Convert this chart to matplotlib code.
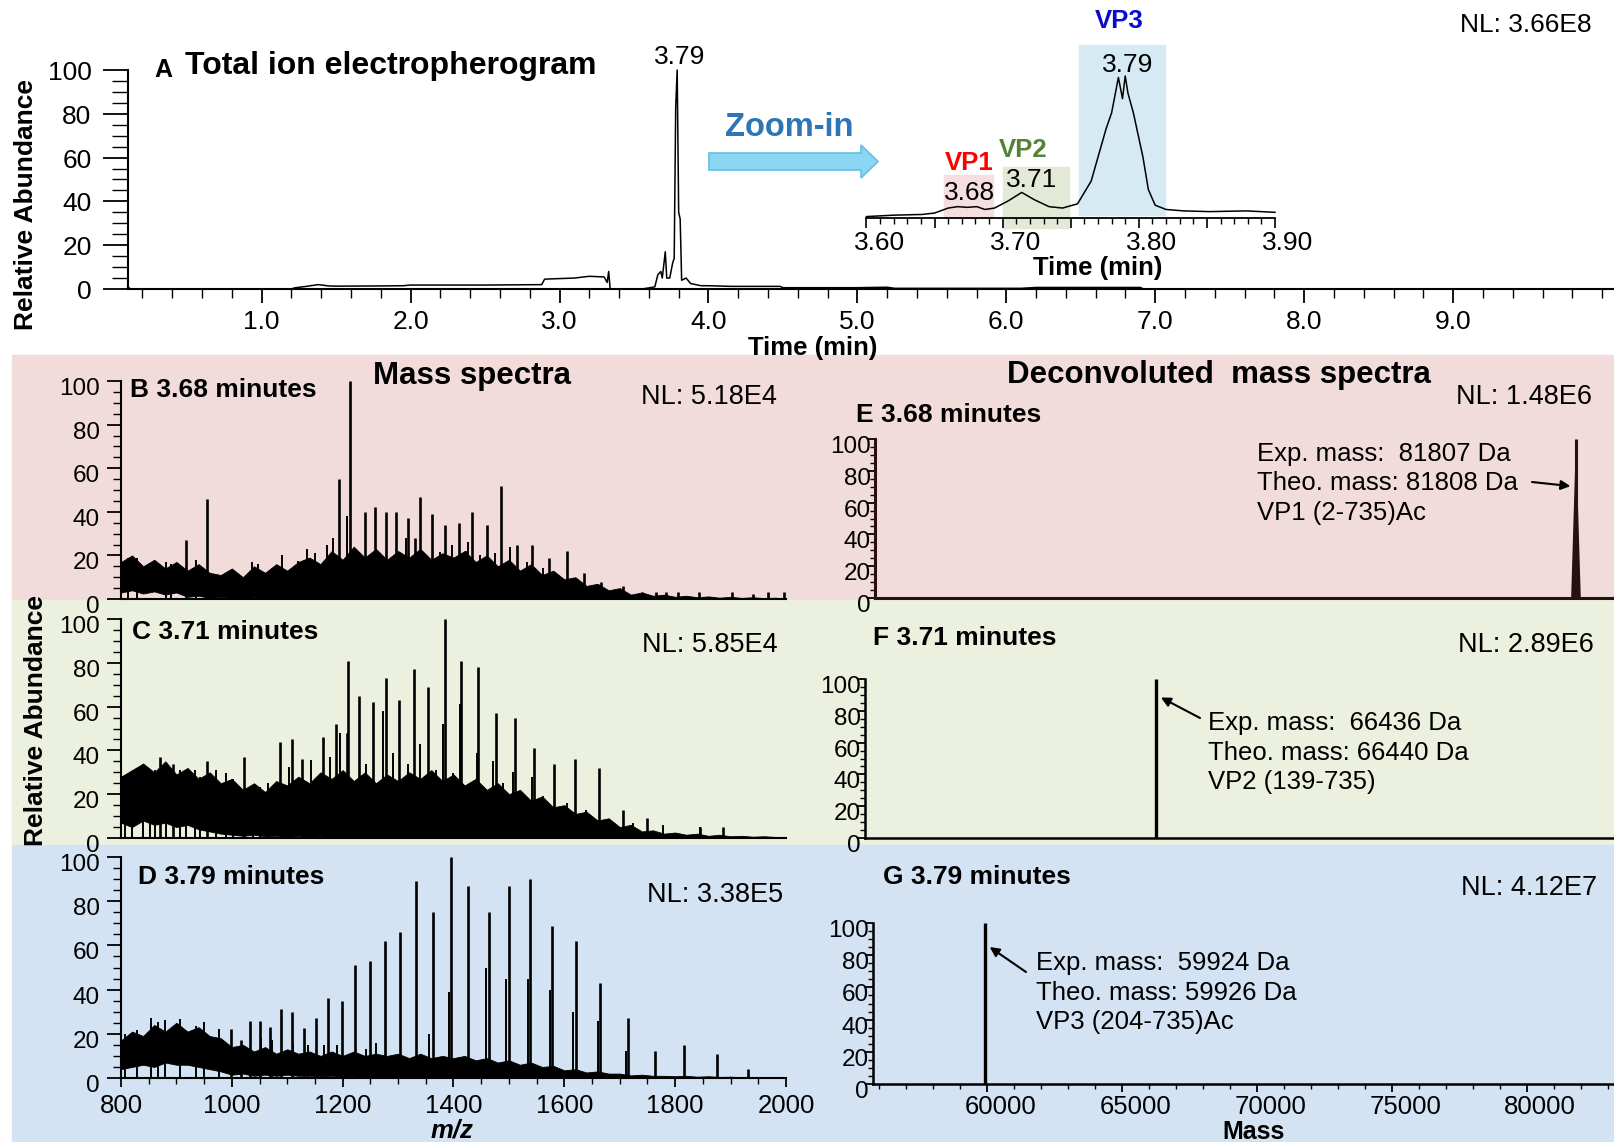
import matplotlib
matplotlib.use("Agg")
import matplotlib.pyplot as plt
from matplotlib.patches import Rectangle, Polygon
from matplotlib.ticker import MultipleLocator

plt.rcParams["font.family"] = ["Liberation Sans", "DejaVu Sans"]

W, H = 1614, 1142

# ---- total ion electropherogram (panel A) ----
tie_t = [0.10, 0.12, 0.14, 1.20, 1.22, 1.30, 1.38, 1.45, 1.50, 1.80, 1.95, 2.00, 2.50,
         2.88, 2.90, 3.10, 3.20, 3.30, 3.32, 3.33, 3.34, 3.55, 3.60, 3.64, 3.66, 3.68,
         3.69, 3.71, 3.72, 3.74, 3.76, 3.77, 3.78, 3.79, 3.80, 3.81, 3.82, 3.85, 3.88,
         3.95, 4.00, 4.15, 4.48, 4.50, 5.00, 5.20, 5.25, 6.10, 6.20, 6.90, 6.92, 10.0]
tie_y = [1.0, 0, 0, 0, 0.5, 1.2, 2.0, 1.4, 1.3, 1.4, 1.5, 1.8, 1.8,
         2.0, 4.5, 5.0, 5.8, 5.5, 3.0, 8.0, 0, 0, 0.5, 1.0, 6.5, 8.0,
         5.0, 17, 5, 5, 12, 14, 83, 100, 35, 32, 4, 5, 2.5,
         1.5, 1.5, 1.2, 1.2, 0.6, 0.6, 0.8, 0.3, 0.3, 0.7, 0.7, 0, 0]

# zoomed electropherogram (inset)
zoom_t = [3.600, 3.620, 3.641, 3.650, 3.660, 3.667, 3.674, 3.681, 3.687, 3.694, 3.704,
          3.714, 3.723, 3.734, 3.744, 3.755, 3.765, 3.776, 3.780, 3.785, 3.788, 3.790,
          3.792, 3.796, 3.803, 3.807, 3.812, 3.820, 3.833, 3.852, 3.879, 3.900]
zoom_y = [1, 2, 2.5, 3.5, 7, 8, 7.5, 8, 6, 7, 12,
          18, 13, 8, 7, 10, 26, 63, 74, 99, 84, 100,
          88, 74, 43, 20, 9, 6, 5, 4.5, 5, 4]

vp_names = ["VP1", "VP2", "VP3"]
vp_apex = ["3.68", "3.71", "3.79"]
vp_start = [3.657, 3.700, 3.756]
vp_end = [3.693, 3.749, 3.819]
vp_top = [30, 36, 122]

# ---- mass spectra (B, C, D) ----
noise_mz = [800, 820, 840, 860, 880, 900, 920, 940, 960, 980,
            1000, 1020, 1040, 1060, 1080, 1100, 1120, 1140, 1160, 1180,
            1200, 1220, 1240, 1260, 1280, 1300, 1320, 1340, 1360, 1380,
            1400, 1420, 1440, 1460, 1480, 1500, 1520, 1540, 1560, 1580,
            1600, 1620, 1640, 1660, 1680, 1700, 1720, 1740, 1760, 1780,
            1800, 1820, 1840, 1860, 1880, 1900, 1920, 1940, 1960, 1980, 2000]

b_noise_hi = [17, 20, 15, 18, 14, 17, 13, 16, 12, 11,
              14, 10, 15, 12, 16, 13, 17, 19, 16, 22,
              18, 24, 19, 23, 18, 22, 19, 23, 18, 21,
              19, 22, 17, 20, 15, 18, 13, 16, 11, 13,
              9, 10, 6, 7, 4, 5, 2, 3, 1.5, 2,
              1, 1.5, 0.8, 1.2, 0.6, 1, 0.5, 0.8, 0.4, 0.6, 0.3]
b_noise_lo = [3, 4, 2.5, 3.5, 2, 3, 1, 1.5, 0.5, 1,
              0.5, 0.3, 0.8, 0.3, 0.6, 0.3, 0.5, 0.3, 0.6, 0.3,
              0.5, 0.3, 0.5, 0.2, 0.4, 0.2, 0.4, 0.2, 0.3, 0.2,
              0.3, 0.2, 0.3, 0.2, 0.2, 0.1, 0.2, 0, 0, 0,
              0, 0, 0, 0, 0, 0, 0, 0, 0, 0,
              0, 0, 0, 0, 0, 0, 0, 0, 0, 0, 0]
b_peak_mz = [918, 955, 1193, 1214, 1240, 1259, 1278, 1297, 1317, 1330, 1340, 1361, 1385, 1410,
             1434, 1460, 1486, 1514, 1542, 1573, 1605, 1636, 1667, 1705, 1741, 1766, 1783,
             1806, 1843, 1903, 1940, 1968, 1997]
b_peak_h = [27, 46, 55, 100, 40, 42, 40, 40, 37, 28, 47, 39, 34, 35,
            40, 34, 52, 25, 25, 19, 22, 12, 8, 6, 3, 3, 3,
            3, 3, 3, 2.5, 3, 3]
b_minor_mz = [813, 828, 882, 891, 936, 1000, 1036, 1048, 1090, 1120, 1136, 1150, 1171, 1183,
              1207, 1315, 1376, 1397, 1403, 1423, 1427, 1448, 1451, 1475, 1502, 1532, 1562,
              1589, 1619, 1652, 1676]
b_minor_h = [19, 19, 17, 16, 18, 13, 17, 16, 20, 17.5, 23, 21, 25, 28,
             38, 28, 21.5, 24.6, 19, 22, 26, 20, 18, 21, 24, 17, 14,
             10.5, 7.3, 2.6, 4.2]

c_noise_hi = [28, 31, 34, 30, 35, 29, 32, 27, 30, 25,
              27, 22, 25, 21, 26, 24, 28, 25, 30, 27,
              31, 26, 30, 25, 29, 26, 30, 27, 31, 26,
              29, 24, 27, 22, 25, 20, 22, 17, 19, 14,
              15, 11, 12, 8, 9, 5, 6, 3, 3.5, 2,
              2.5, 1.5, 2, 1, 1.5, 0.8, 1, 0.6, 0.8, 0.5, 0.5]
c_noise_lo = [7, 5, 8, 6, 7, 5, 6, 4, 3, 2,
              1.5, 1, 1.5, 0.8, 1, 0.6, 1, 0.5, 0.8, 0.5,
              0.6, 0.4, 0.5, 0.3, 0.5, 0.3, 0.4, 0.3, 0.4, 0.2,
              0.3, 0.2, 0.3, 0.2, 0.2, 0.1, 0.1, 0, 0, 0,
              0, 0, 0, 0, 0, 0, 0, 0, 0, 0,
              0, 0, 0, 0, 0, 0, 0, 0, 0, 0, 0]
c_peak_mz = [870, 894, 955, 1022, 1087, 1108, 1126, 1164, 1188, 1207, 1210, 1230, 1255, 1278,
             1302, 1328, 1354, 1384, 1414, 1445, 1477, 1511, 1545, 1581, 1620, 1663, 1705,
             1749, 1845, 1887]
c_peak_h = [37, 34, 35, 37, 44, 45, 36, 46, 52, 48, 81, 65, 62, 73,
            63, 77, 69, 100, 81, 78, 57, 55, 41, 34, 36, 32, 13,
            9, 5, 5]
c_minor_mz = [807, 819, 840, 852, 861, 882, 906, 918, 933, 942, 972, 989, 1003, 1039,
              1051, 1066, 1104, 1142, 1177, 1195, 1243, 1273, 1291, 1318, 1339, 1369, 1381,
              1399, 1411, 1423, 1443, 1459, 1472, 1490, 1507, 1526, 1542, 1562, 1604, 1640,
              1676, 1724, 1778, 1844]
c_minor_h = [25, 27, 34, 31, 31, 32, 31, 31, 31, 28, 31, 29.5, 27, 22,
             23.5, 25, 32.6, 35.7, 37, 48, 34, 58, 38.7, 34, 43, 31, 52,
             29.5, 61, 23.5, 39, 22, 35, 25, 30, 20, 28, 19, 16, 13,
             6.8, 6.8, 6, 5]

d_noise_hi = [17, 21, 19, 24, 21, 25, 21, 23, 19, 18,
              14, 15, 12, 14, 11, 13, 11, 12, 10, 12,
              10, 12, 10, 11, 10, 11, 9, 11, 9, 10,
              9, 10, 8, 9, 7, 8, 6, 7, 5, 5.5,
              3.5, 4, 2.5, 3, 2, 2, 1.2, 1.5, 1, 1,
              0.8, 1, 0.6, 0.8, 0.5, 0.6, 0.4, 0.5, 0.3, 0.4, 0.3]
d_noise_lo = [4, 5, 6, 5, 7, 6, 6, 5, 4, 3,
              1.5, 2, 1, 1.5, 1, 1.5, 1, 1, 0.8, 1,
              0.6, 0.8, 0.5, 0.6, 0.4, 0.5, 0.3, 0.4, 0.3, 0.3,
              0.2, 0.3, 0.2, 0.2, 0.1, 0.2, 0.1, 0, 0, 0,
              0, 0, 0, 0, 0, 0, 0, 0, 0, 0,
              0, 0, 0, 0, 0, 0, 0, 0, 0, 0, 0]
d_peak_mz = [999, 1017, 1032, 1050, 1069, 1089, 1108, 1131, 1152, 1174, 1198, 1223, 1249, 1276,
             1304, 1332, 1363, 1395, 1427, 1464, 1500, 1538, 1578, 1621, 1665, 1715, 1764,
             1816, 1875, 1932]
d_peak_h = [22, 17, 26, 26, 23, 31, 30, 22.5, 27, 36, 35, 51, 53, 62,
            66, 89, 75, 100, 87, 75, 87, 90, 69, 62, 43, 27, 12,
            15, 11, 4]
d_minor_mz = [808, 828, 855, 867, 880, 907, 935, 949, 976, 1053, 1072, 1110, 1138, 1167,
              1190, 1242, 1261, 1356, 1391, 1459, 1495, 1534, 1575, 1616, 1661, 1711]
d_minor_h = [20, 21.7, 27, 25.5, 26.4, 26.6, 23.6, 25.5, 22.3, 18, 17, 16, 15, 15,
             15, 13, 16, 19.8, 39, 50, 45, 45, 40, 30, 26, 12]

# ---- deconvoluted spectra (E, F, G) ----
decon_mass = [81807, 66436, 59924]
decon_height = [100, 100, 100]
theo_mass = [81808, 66440, 59926]
species = ["VP1 (2-735)Ac", "VP2 (139-735)", "VP3 (204-735)Ac"]

panel_tags = ["B", "C", "D", "E", "F", "G"]
panel_times = ["3.68", "3.71", "3.79", "3.68", "3.71", "3.79"]
nl_levels = ["5.18E4", "5.85E4", "3.38E5", "1.48E6", "2.89E6", "4.12E7"]
nl_tie = "3.66E8"

PINK, GREEN, BLUE = "#f2dcdb", "#ebf1de", "#d3e3f3"

fig = plt.figure(figsize=(W / 100, H / 100), dpi=100)


def box(left, right, bottom, top):
    return [left / W, 1 - bottom / H, (right - left) / W, (bottom - top) / H]


def put(x, y, s, **kw):
    return fig.text(x / W, 1 - y / H, s, **kw)


def new_axes(left, right, bottom, top, spines=("left", "bottom"), lw=1.5, color="k"):
    ax = fig.add_axes(box(left, right, bottom, top))
    ax.set_facecolor("none")
    for side in ["left", "right", "top", "bottom"]:
        if side in spines:
            ax.spines[side].set_linewidth(lw)
            ax.spines[side].set_color(color)
        else:
            ax.spines[side].set_visible(False)
    return ax


def y_labels(ax, ticks, dx, dy, size, major, minor):
    ax.set_yticks(ticks)
    ax.yaxis.set_minor_locator(MultipleLocator(5))
    ax.tick_params(axis="y", which="major", length=major * 0.72, width=1.3, labelleft=False)
    ax.tick_params(axis="y", which="minor", length=minor * 0.72, width=1.0)
    for t in ticks:
        ax.annotate(str(t), xy=(0, t), xycoords=("axes fraction", "data"),
                    xytext=(-dx, -dy), textcoords="offset pixels", ha="right",
                    va="center", fontsize=size, annotation_clip=False)


def x_labels(ax, ticks, texts, dx, dy, size):
    for t, s in zip(ticks, texts):
        ax.annotate(s, xy=(t, 0), xycoords=("data", "axes fraction"),
                    xytext=(dx, -dy), textcoords="offset pixels", ha="center",
                    va="center", fontsize=size, annotation_clip=False)


# coloured bands behind the spectra
for top, bottom, col in [(355, 600, PINK), (600, 845, GREEN), (845, H, BLUE)]:
    fig.add_artist(Rectangle((12 / W, 1 - bottom / H), 1 - 12 / W, (bottom - top) / H,
                             transform=fig.transFigure, color=col, zorder=-5))

# ---------------- panel A ----------------
axA = new_axes(127.6, 1614, 289, 70)
axA.plot(tie_t, tie_y, color="k", lw=1.1, clip_on=False)
axA.set_xlim(0.10, 10.08)
axA.set_ylim(0, 100)
y_labels(axA, [0, 20, 40, 60, 80, 100], 36, 3, 19, 25, 16)
axA.set_xticks(range(1, 10))
axA.xaxis.set_minor_locator(MultipleLocator(0.2))
axA.tick_params(axis="x", which="major", length=14 * 0.72, width=1.3, labelbottom=False)
axA.tick_params(axis="x", which="minor", length=9 * 0.72, width=1.0)
x_labels(axA, range(1, 10), [f"{v:.1f}" for v in range(1, 10)], 0, 33, 19)
put(26, 204, "Relative Abundance", rotation=90, fontsize=19, fontweight="bold",
    ha="center", va="center")
put(813, 348, "Time (min)", fontsize=18.5, fontweight="bold", ha="center", va="center")
put(163, 70, "A", fontsize=18, fontweight="bold", ha="center", va="center")
put(185, 66, "Total ion electropherogram", fontsize=23, fontweight="bold", ha="left", va="center")
put(680, 57, "3.79", fontsize=19, ha="center", va="center")
put(1592, 25, f"NL: {nl_tie}", fontsize=19, ha="right", va="center")

# zoom-in arrow and label
arrow_px = [(709, 153), (861, 153), (861, 145), (878, 161.5), (861, 178), (861, 170), (709, 170)]
arrow = Polygon([(x / W, 1 - y / H) for x, y in arrow_px], closed=True,
                facecolor="#8bd6f2", edgecolor="#62bfe3", lw=1.2, transform=fig.transFigure)
fig.add_artist(arrow)
put(789, 127, "Zoom-in", fontsize=23.5, fontweight="bold", color="#2e75b6", ha="center", va="center")

# ---------------- inset ----------------
axI = new_axes(866.5, 1275, 218, 218 - 125 * 1.42, spines=("bottom",), lw=1.3)
box_cols = ["#f5dedf", "#e2e9d6", "#d6eaf4"]
box_bot = [0, -7, 2]
for s, e, t, b, c in zip(vp_start, vp_end, vp_top, box_bot, box_cols):
    axI.add_patch(Rectangle((s, b), e - s, t - b, color=c, zorder=0, clip_on=False))
axI.plot(zoom_t, zoom_y, color="k", lw=1.1, zorder=2, clip_on=False)
axI.set_xlim(3.60, 3.90)
axI.set_ylim(0, 125)
axI.set_yticks([])
axI.xaxis.set_major_locator(MultipleLocator(0.05))
axI.xaxis.set_minor_locator(MultipleLocator(0.01))
axI.tick_params(axis="x", which="major", length=10 * 0.72, width=1.2, labelbottom=False)
axI.tick_params(axis="x", which="minor", length=6 * 0.72, width=1.0)
x_labels(axI, [3.60, 3.70, 3.80, 3.90], ["3.60", "3.70", "3.80", "3.90"], 13, 25, 19)
put(1098, 268, "Time (min)", fontsize=18.5, fontweight="bold", ha="center", va="center")
vp_colors = ["#ff0000", "#548235", "#0a0acc"]
vp_name_xy = [(969, 163), (1023, 150), (1119, 21)]
vp_apex_xy = [(970, 193), (1032, 180), (1128, 65)]
for n, a, c, (nx, ny), (ax_, ay) in zip(vp_names, vp_apex, vp_colors, vp_name_xy, vp_apex_xy):
    put(nx, ny, n, fontsize=18.5, fontweight="bold", color=c, ha="center", va="center")
    put(ax_, ay, a, fontsize=19, ha="center", va="center")

# ---------------- mass spectra B, C, D ----------------
ms_axes = [(121, 786, 599, 381), (121, 786, 838, 619), (121, 786, 1078, 857)]
ms_data = [(b_noise_lo, b_noise_hi, b_peak_mz, b_peak_h, b_minor_mz, b_minor_h),
           (c_noise_lo, c_noise_hi, c_peak_mz, c_peak_h, c_minor_mz, c_minor_h),
           (d_noise_lo, d_noise_hi, d_peak_mz, d_peak_h, d_minor_mz, d_minor_h)]
tag_xy = [(130, 390), (132, 632), (138, 877)]
nl_xy = [(777, 397), (778, 645), (783, 895)]
for i, ((l, r, b, t), (lo, hi, pm, ph, mm, mh)) in enumerate(zip(ms_axes, ms_data)):
    ax = new_axes(l, r, b, t)
    ax.fill_between(noise_mz, lo, hi, color="k", lw=0.6)
    ax.vlines(mm, 0, mh, color="k", lw=1.4)
    ax.vlines(pm, 0, ph, color="k", lw=1.9, clip_on=False)
    ax.set_xlim(800, 2000)
    ax.set_ylim(0, 100)
    y_labels(ax, [0, 20, 40, 60, 80, 100], 21, 8, 17.5, 14, 8)
    if i < 2:
        ax.set_xticks([])
    else:
        ax.set_xticks(range(800, 2001, 200))
        ax.xaxis.set_minor_locator(MultipleLocator(50))
        ax.tick_params(axis="x", which="major", length=9 * 0.72, width=1.3, labelbottom=False)
        ax.tick_params(axis="x", which="minor", length=6 * 0.72, width=1.0)
        x_labels(ax, range(800, 2001, 200), [str(v) for v in range(800, 2001, 200)], 0, 28, 18.5)
    put(tag_xy[i][0], tag_xy[i][1], f"{panel_tags[i]} {panel_times[i]} minutes",
        fontsize=19, fontweight="bold", ha="left", va="center")
    put(nl_xy[i][0], nl_xy[i][1], f"NL: {nl_levels[i]}", fontsize=19.5, ha="right", va="center")

put(472, 376, "Mass spectra", fontsize=22.5, fontweight="bold", ha="center", va="center")
put(36, 720, "Relative Abundance", rotation=90, fontsize=19, fontweight="bold",
    ha="center", va="center")
put(452, 1130, "m/z", fontsize=18.5, fontweight="bold", style="italic", ha="center", va="center")

# ---------------- deconvoluted spectra E, F, G ----------------
dc_axes = [(875, 1614, 598, 439), (865, 1614, 838, 679), (873, 1614, 1084, 923)]
dc_color = ["#2a0f0f", "k", "k"]
tag_xy = [(856, 415), (873, 638), (883, 877)]
nl_xy = [(1592, 397), (1594, 645), (1597, 888)]
note_xy = [(1257, 454), (1208, 723), (1036, 963)]
arrow_from = [(1532, 482), (1200, 718), (1026, 972)]
arrow_to_h = [70, 90, 87]
for i, (l, r, b, t) in enumerate(dc_axes):
    ax = new_axes(l, r, b, t, lw=2.2 if i == 0 else 1.8, color=dc_color[i])
    m, h = decon_mass[i], decon_height[i]
    if i == 0:
        ax.fill([m - 180, m, m + 180], [0, h, 0], color=dc_color[i], lw=0, clip_on=False)
        ax.vlines([m], 0, [h], color=dc_color[i], lw=2.2, clip_on=False)
    else:
        ax.vlines([m], 0, [h], color="k", lw=2.4, clip_on=False)
    ax.set_xlim(55770, 83220)
    ax.set_ylim(0, 100)
    y_labels(ax, [0, 20, 40, 60, 80, 100], 4, 8, 17.5, 8, 5)
    if i < 2:
        ax.set_xticks([])
    else:
        ax.set_xticks(range(60000, 80001, 5000))
        ax.xaxis.set_minor_locator(MultipleLocator(1000))
        ax.tick_params(axis="x", which="major", length=8 * 0.72, width=1.3, labelbottom=False)
        ax.tick_params(axis="x", which="minor", length=5 * 0.72, width=1.0)
        x_labels(ax, range(60000, 80001, 5000), [str(v) for v in range(60000, 80001, 5000)], 13, 23, 18.5)
    tx, ty = note_xy[i]
    for k, line in enumerate([f"Exp. mass:  {m} Da", f"Theo. mass: {theo_mass[i]} Da", species[i]]):
        put(tx, ty + 29.5 * k, line, fontsize=18.5, ha="left", va="center")
    fx, fy = arrow_from[i]
    ax.annotate("", xy=(m, arrow_to_h[i]), xycoords="data", xytext=(fx, H - fy),
                textcoords="figure pixels",
                arrowprops=dict(arrowstyle="-|>", color="k", lw=1.5, mutation_scale=14,
                                shrinkA=0, shrinkB=4))
    put(tag_xy[i][0], tag_xy[i][1], f"{panel_tags[i + 3]} {panel_times[i + 3]} minutes",
        fontsize=19, fontweight="bold", ha="left", va="center")
    put(nl_xy[i][0], nl_xy[i][1], f"NL: {nl_levels[i + 3]}", fontsize=19.5, ha="right", va="center")

put(1219, 375, "Deconvoluted  mass spectra", fontsize=22.5, fontweight="bold", ha="center", va="center")
put(1254, 1132, "Mass", fontsize=18, fontweight="bold", ha="center", va="center")

fig.savefig("out.png", dpi=100)
